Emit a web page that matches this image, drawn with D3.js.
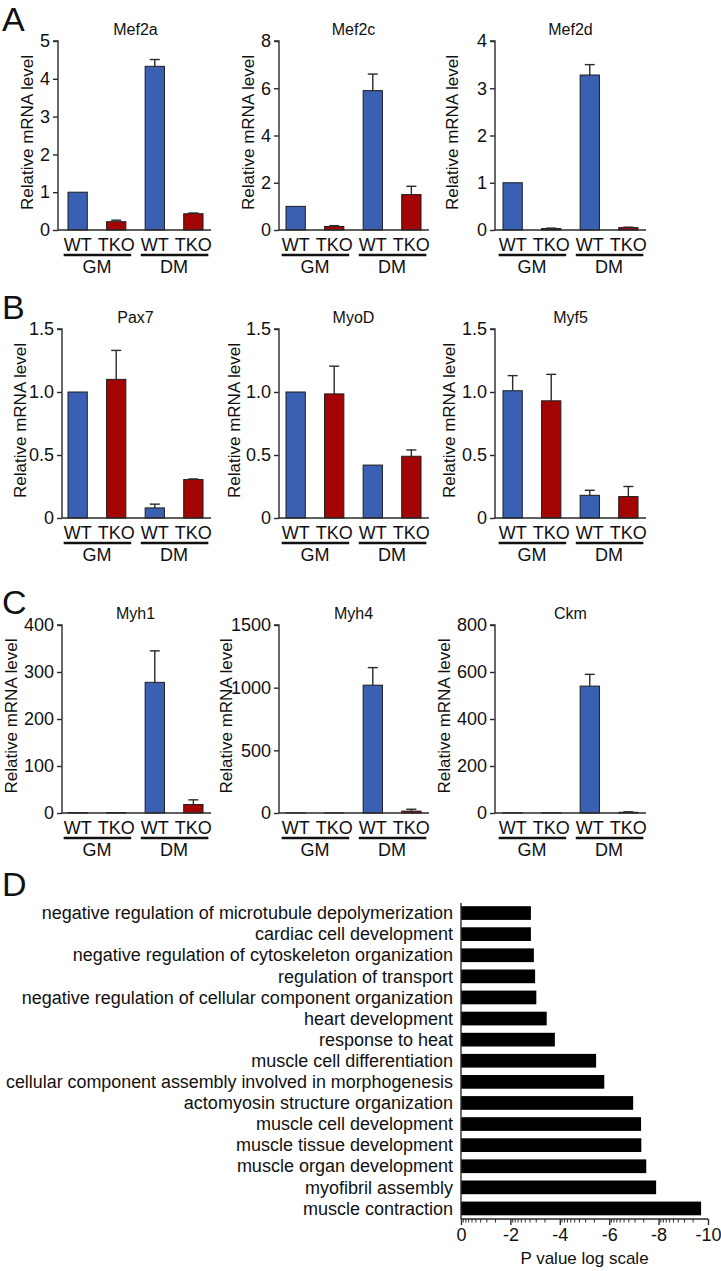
<!DOCTYPE html>
<html><head><meta charset="utf-8">
<script src="https://cdn.jsdelivr.net/npm/d3@7"></script>
<style>
body{margin:0;background:#fff;}
text{font-family:"Liberation Sans",Arial,Helvetica,sans-serif;fill:#111;}
</style></head>
<body><svg id="c" width="721" height="1271"></svg>
<script>
// ---------- DATA ----------
const samples = ["WT GM","TKO GM","WT DM","TKO DM"];
const sampleLabels = ["WT","TKO","WT","TKO"];
const conditions = ["GM","DM"];
const genes = ["Mef2a","Mef2c","Mef2d","Pax7","MyoD","Myf5","Myh1","Myh4","Ckm"];
const mef2aMean = [1.0, 0.22, 4.33, 0.43];  const mef2aErr = [0, 0.04, 0.18, 0.02];
const mef2cMean = [1.0, 0.15, 5.9, 1.5];    const mef2cErr = [0, 0.03, 0.7, 0.35];
const mef2dMean = [1.0, 0.03, 3.28, 0.05];  const mef2dErr = [0, 0.01, 0.22, 0.01];
const pax7Mean  = [1.0, 1.1, 0.08, 0.305];  const pax7Err  = [0, 0.23, 0.03, 0.005];
const myodMean  = [1.0, 0.985, 0.42, 0.49]; const myodErr  = [0, 0.22, 0, 0.05];
const myf5Mean  = [1.01, 0.93, 0.18, 0.17]; const myf5Err  = [0.12, 0.21, 0.04, 0.08];
const myh1Mean  = [1, 1, 278, 18];          const myh1Err  = [0, 0, 67, 10];
const myh4Mean  = [1, 1, 1020, 15];         const myh4Err  = [0, 0, 140, 15];
const ckmMean   = [1, 1, 540, 3];           const ckmErr   = [0, 0, 50, 2];
const means = [mef2aMean, mef2cMean, mef2dMean, pax7Mean, myodMean, myf5Mean, myh1Mean, myh4Mean, ckmMean];
const errs  = [mef2aErr, mef2cErr, mef2dErr, pax7Err, myodErr, myf5Err, myh1Err, myh4Err, ckmErr];
const yMaxes = [5, 8, 4, 1.5, 1.5, 1.5, 400, 1500, 800];
const yTickVals = [[0,1,2,3,4,5],[0,2,4,6,8],[0,1,2,3,4],[0,0.5,1,1.5],[0,0.5,1,1.5],[0,0.5,1,1.5],[0,100,200,300,400],[0,500,1000,1500],[0,200,400,600,800]];
const yTickLabels = [["0","1","2","3","4","5"],["0","2","4","6","8"],["0","1","2","3","4"],["0","0.5","1.0","1.5"],["0","0.5","1.0","1.5"],["0","0.5","1.0","1.5"],["0","100","200","300","400"],["0","500","1000","1500"],["0","200","400","600","800"]];
const yTitle = "Relative mRNA level";

const goTerms = ["negative regulation of microtubule depolymerization","cardiac cell development","negative regulation of cytoskeleton organization","regulation of transport","negative regulation of cellular component organization","heart development","response to heat","muscle cell differentiation","cellular component assembly involved in morphogenesis","actomyosin structure organization","muscle cell development","muscle tissue development","muscle organ development","myofibril assembly","muscle contraction"];
const goLogP = [2.83, 2.83, 2.95, 3.0, 3.05, 3.47, 3.8, 5.47, 5.8, 6.97, 7.29, 7.3, 7.5, 7.9, 9.72];
const goTicks = [0, 2, 4, 6, 8, 10];
const goTickLabels = ["0","-2","-4","-6","-8","-10"];
const goAxisTitle = "P value log scale";
const panelLetters = ["A","B","C","D"];

// ---------- LAYOUT ----------
const svg = d3.select("#c");
const FONT = '"Liberation Sans",Arial,Helvetica,sans-serif';
const BLUE = "#3a60b3", RED = "#a30505", INK = "#2a2a2a";
const rows = [{top:41, zero:230, letterY:31}, {top:329, zero:518, letterY:319}, {top:625, zero:813, letterY:614}];
const colBars = [[68,203],[286,421],[503,638]];
const axisX = [[58,279,495],[62,279,495],[62,279,495]];
const yLabelX = [[27,248,452],[20,234,449],[11,226,444]];

genes.forEach((g, i) => {
  const r = Math.floor(i/3), c = i%3;
  const row = rows[r];
  const [L, R] = colBars[c];
  const ax = axisX[r][c];
  const x = d3.scaleBand().domain(samples).range([L, R]).paddingInner(0.5).paddingOuter(0);
  const y = d3.scaleLinear().domain([0, yMaxes[i]]).range([row.zero, row.top]);
  const gp = svg.append("g");
  gp.selectAll("rect.bar").data(samples).join("rect")
    .attr("x", d => x(d)).attr("width", x.bandwidth())
    .attr("y", (d,k) => y(means[i][k])).attr("height", (d,k) => row.zero - y(means[i][k]))
    .attr("fill", (d,k) => k%2===0 ? BLUE : RED).attr("stroke", "#1d1d1d").attr("stroke-width", 1);
  samples.forEach((s,k) => {
    if (errs[i][k] <= 0) return;
    const cx = x(s) + x.bandwidth()/2;
    const y1 = y(means[i][k]), y2 = y(means[i][k] + errs[i][k]);
    gp.append("line").attr("x1",cx).attr("x2",cx).attr("y1",y1).attr("y2",y2).attr("stroke",INK).attr("stroke-width",1.4);
    gp.append("line").attr("x1",cx-5).attr("x2",cx+5).attr("y1",y2).attr("y2",y2).attr("stroke",INK).attr("stroke-width",1.4);
  });
  const yAxis = d3.axisLeft(y).tickValues(yTickVals[i]).tickFormat((d,k) => yTickLabels[i][k]).tickSize(5).tickPadding(3);
  const ya = gp.append("g").attr("transform", `translate(${ax},0)`).call(yAxis);
  ya.select(".domain").attr("stroke", INK).attr("stroke-width", 1.4).attr("d", `M-5,${row.top}H0V${row.zero}`);
  ya.selectAll(".tick line").attr("stroke", INK).attr("stroke-width", 1.4);
  ya.selectAll(".tick text").attr("font-family", FONT).attr("font-size", 18).attr("fill", "#111");
  gp.append("line").attr("x1", ax).attr("x2", R + 8).attr("y1", row.zero).attr("y2", row.zero).attr("stroke", INK).attr("stroke-width", 1.4);
  gp.selectAll("text.s").data(samples).join("text")
    .attr("x", d => x(d) + x.bandwidth()/2).attr("y", row.zero + 21)
    .attr("text-anchor","middle").attr("font-size", 18).text((d,k) => sampleLabels[k]);
  conditions.forEach((cond, j) => {
    const c1 = x(samples[2*j]) + x.bandwidth()/2, c2 = x(samples[2*j+1]) + x.bandwidth()/2;
    gp.append("line").attr("x1", c1 - 14).attr("x2", c2 + 15).attr("y1", row.zero + 25).attr("y2", row.zero + 25)
      .attr("stroke", "#111").attr("stroke-width", 2.6);
    gp.append("text").attr("x", (c1+c2)/2).attr("y", row.zero + 43).attr("text-anchor","middle").attr("font-size", 18).text(cond);
  });
  gp.append("text").attr("x", (L+R)/2).attr("y", row.top - 6).attr("text-anchor","middle").attr("font-size", 16).text(g);
  gp.append("text").attr("transform", `translate(${yLabelX[r][c]+6},${(row.top+row.zero)/2 - 3}) rotate(-90)`)
    .attr("text-anchor","middle").attr("font-size", 17).text(yTitle);
});

rows.forEach((row, r) => {
  svg.append("text").attr("x", 2).attr("y", row.letterY).attr("font-size", 34).text(panelLetters[r]);
});
svg.append("text").attr("x", 2).attr("y", 896).attr("font-size", 34).text(panelLetters[3]);

// ---------- PANEL D ----------
const xD = d3.scaleLinear().domain([0, 10]).range([461, 708]);
const yD = d3.scaleBand().domain(goTerms).range([902.5, 1219]).paddingInner(0.35).paddingOuter(0.175);
const gD = svg.append("g");
gD.selectAll("rect").data(goTerms).join("rect")
  .attr("x", xD(0)).attr("y", d => yD(d)).attr("height", yD.bandwidth())
  .attr("width", (d,k) => xD(goLogP[k]) - xD(0)).attr("fill", "#000");
const terms = gD.selectAll("text.term").data(goTerms).join("text")
  .attr("x", 453).attr("y", d => yD(d) + yD.bandwidth()/2 + 6.2)
  .attr("text-anchor","end").attr("font-size", 18).text(d => d);
terms.each(function() {
  const w = this.getComputedTextLength();
  if (w > 447) d3.select(this).attr("textLength", 447).attr("lengthAdjust", "spacingAndGlyphs");
});
gD.append("line").attr("x1", 461).attr("x2", 461).attr("y1", 903).attr("y2", 1219).attr("stroke", INK).attr("stroke-width", 1.4);
const xAxisD = d3.axisBottom(xD).tickValues(goTicks).tickFormat((d,k) => goTickLabels[k]).tickSize(6).tickPadding(3);
const xa = gD.append("g").attr("transform", "translate(0,1219)").call(xAxisD);
xa.select(".domain").attr("stroke", INK).attr("stroke-width", 1.4).attr("d", "M461,0H708");
xa.selectAll(".tick line").attr("stroke", INK).attr("stroke-width", 1.4);
xa.selectAll(".tick text").attr("font-family", FONT).attr("font-size", 18).attr("fill", "#111");
const minor = [];
for (let m = 0; m < 10; m += 2) {
  for (let k = 1; k <= 8; k++) minor.push(m + 2 * (1 - Math.log10(10 - k)));
}
gD.selectAll("line.minor").data(minor).join("line")
  .attr("x1", d => xD(d)).attr("x2", d => xD(d)).attr("y1", 1219).attr("y2", 1222.5)
  .attr("stroke", INK).attr("stroke-width", 1);
gD.append("text").attr("x", xD(5)).attr("y", 1264).attr("text-anchor","middle").attr("font-size", 17).text(goAxisTitle);
</script></body></html>
